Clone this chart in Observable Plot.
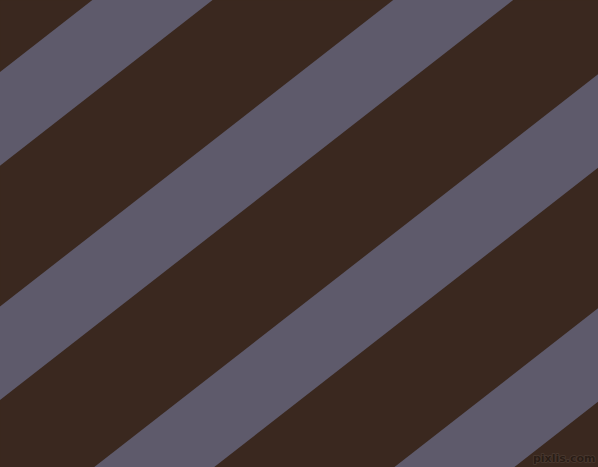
<!DOCTYPE html>
<html>
<head>
<meta charset="utf-8">
<script src="https://cdn.jsdelivr.net/npm/d3@7"></script>
<script src="https://cdn.jsdelivr.net/npm/@observablehq/plot@0.6"></script>
<style>
  html, body { margin: 0; padding: 0; background: #3a281f; overflow: hidden; }
  #chart svg { display: block; }
</style>
</head>
<body>
<div id="chart"></div>
<script>
// Stripe geometry (in pixel-like data units, y pointing down)
const stripeIds = [1, 2, 3, 4];
const stripeTop = [72, 306.5, 540.5, 774.5];   // upper edge intercept at x = 0
const stripeBottom = [165.7, 400, 634, 868];   // lower edge intercept at x = 0
const slope = 0.7795;                           // rise per unit x (≈38°)
const xEnds = [0, 598];
const watermark = ["pixlis.com"];

const bg = "#3a281f";
const stripeColor = "#5e5a6b";

const rows = [];
stripeIds.forEach((id, i) => {
  xEnds.forEach(x => {
    rows.push({stripe: id, x, y1: stripeTop[i] - slope * x, y2: stripeBottom[i] - slope * x});
  });
});

const chart = Plot.plot({
  width: 598,
  height: 467,
  margin: 0,
  x: {domain: [0, 598], axis: null},
  y: {domain: [0, 467], reverse: true, axis: null},
  style: {background: bg},
  marks: [
    Plot.frame({fill: bg, stroke: null}),
    Plot.area(rows, {x1: "x", y1: "y1", y2: "y2", z: "stripe", fill: stripeColor, clip: true}),
    Plot.text(watermark, {
      frameAnchor: "bottom-right", dx: -3, dy: -6,
      text: d => d, fontSize: 11, fontWeight: "bold",
      fontFamily: "DejaVu Sans, sans-serif",
      fill: "#2a1d16", stroke: "#4a3a31", strokeWidth: 1.5, paintOrder: "stroke"
    })
  ]
});
document.getElementById("chart").append(chart);
</script>
</body>
</html>
